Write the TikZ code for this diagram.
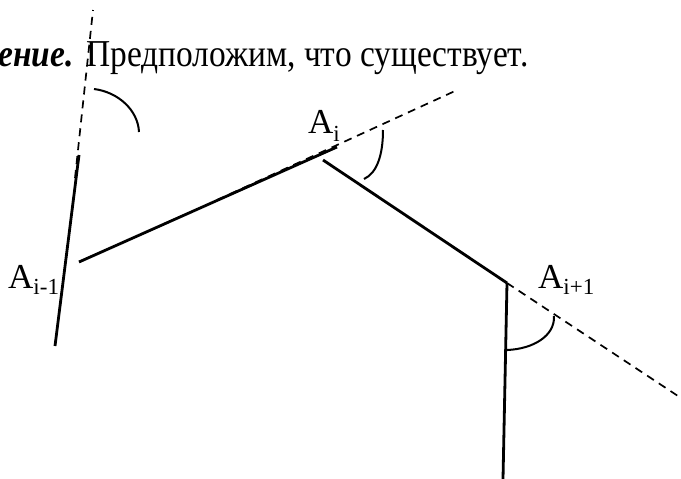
\documentclass[tikz,border=0pt]{standalone}
\usepackage{fontspec}
\setmainfont{Liberation Serif}
\begin{document}
\begin{tikzpicture}[x=1pt,y=-1pt,
  edge/.style={line width=2.8pt},
  ext/.style={line width=1.7pt, dash pattern=on 8pt off 6pt},
  anglearc/.style={line width=2pt},
  hdr/.style={inner sep=0pt, font=\fontsize{38}{38}\selectfont},
  lbl/.style={inner sep=0pt, anchor=base west, font=\fontsize{35}{35}\selectfont}]
\useasboundingbox (0,0) rectangle (681,479);
\clip (0,0) rectangle (681,479);
% header text
\node[hdr, anchor=base east] (ttl) at (74,66) {\scalebox{0.88}[1]{\textbf{\textit{ение.}}}};
\node[hdr, anchor=base west] (txt) at (86,66) {\scalebox{0.88}[1]{Предположим, что существует.}};
% vertices / endpoints
\coordinate (L0) at (55,346);
\coordinate (L1) at (79,155);
\coordinate (Ld0) at (75,178);
\coordinate (Ld1) at (93,10);
\coordinate (E0) at (79,262);
\coordinate (E1) at (337,147);
\coordinate (D0) at (217,200);
\coordinate (D1) at (455,91);
\coordinate (F0) at (323,160);
\coordinate (V) at (507,283);
\coordinate (G1) at (681,398);
\coordinate (H1) at (503,479);
% solid edges
\draw[edge] (L0) -- (L1);
\draw[edge] (E0) -- (E1);
\draw[edge] (F0) -- (V);
\draw[edge] (V) -- (H1);
% dashed extensions
\draw[ext] (Ld0) -- (Ld1);
\draw[ext] (D0) -- (D1);
\draw[ext] (V) -- (G1);
% angle arcs
\coordinate (a1s) at (94,89);
\coordinate (a1e) at (139,132);
\draw[anglearc] (a1s) .. controls (118,92) and (138,110) .. (a1e);
\coordinate (a2s) at (383,130);
\coordinate (a2e) at (364,179);
\draw[anglearc] (a2s) .. controls (383,155) and (377,173) .. (a2e);
\coordinate (a3s) at (507,350);
\coordinate (a3e) at (554,316);
\draw[anglearc] (a3s) .. controls (533,349) and (555,336) .. (a3e);
% labels
\node[lbl] (lAi) at (308,133) {A\raisebox{-8pt}{\fontsize{23}{23}\selectfont i}};
\node[lbl] (lAim) at (8,288) {A\raisebox{-6pt}{\fontsize{23}{23}\selectfont i-1}};
\node[lbl] (lAip) at (538,288) {A\raisebox{-6pt}{\fontsize{23}{23}\selectfont i+1}};
\end{tikzpicture}
\end{document}
